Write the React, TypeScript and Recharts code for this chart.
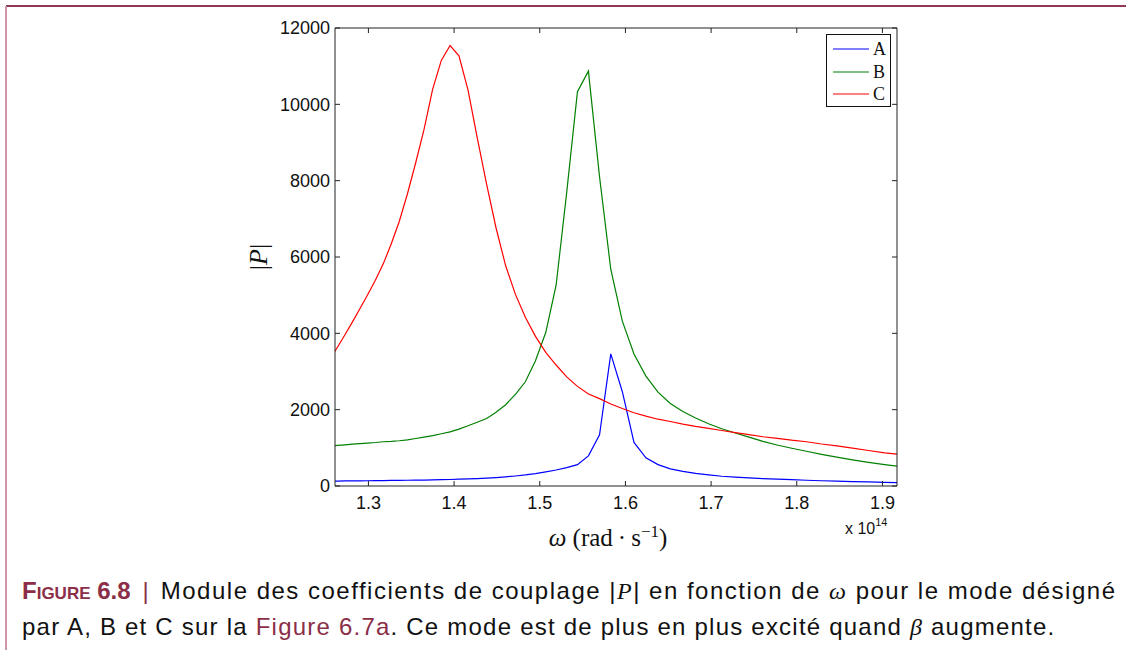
import { LineChart, Line, XAxis, YAxis, Legend } from "recharts";

// omega in units of 1e14 rad/s (samples every 0.1 µm in wavelength, 15.0 -> 9.8 µm)
const omega = [
  1.2558, 1.2642, 1.2728, 1.2814, 1.2902, 1.2991, 1.3081, 1.3173, 1.3266, 1.336,
  1.3455, 1.3552, 1.365, 1.375, 1.3851, 1.3953, 1.4057, 1.4163, 1.427, 1.438,
  1.449, 1.4602, 1.4716, 1.4832, 1.495, 1.507, 1.5191, 1.5315, 1.544, 1.5568,
  1.5698, 1.5829, 1.5964, 1.61, 1.6239, 1.638, 1.6524, 1.667, 1.6819, 1.697,
  1.7125, 1.7282, 1.7442, 1.7605, 1.7771, 1.794, 1.8113, 1.8288, 1.8468, 1.8651,
  1.8837, 1.9027, 1.9222,
];

const seriesA = [
  128, 130, 132, 134, 136, 138, 140, 142, 145, 148,
  150, 153, 156, 160, 165, 170, 178, 186, 195, 207,
  222, 240, 262, 290, 325, 372, 420, 480, 560, 790,
  1340, 3460, 2470, 1140, 740, 560, 450, 385, 330, 290,
  255, 232, 212, 195, 180, 165, 150, 138, 127, 117,
  107, 95, 85,
];

const seriesB = [
  1050, 1065, 1080, 1095, 1110, 1125, 1140, 1160, 1170, 1185,
  1210, 1245, 1280, 1320, 1370, 1420, 1490, 1580, 1670, 1770,
  1930, 2130, 2400, 2730, 3280, 4020, 5260, 7700, 10330, 10870,
  8100, 5680, 4320, 3460, 2880, 2460, 2160, 1950, 1780, 1630,
  1500, 1390, 1280, 1170, 1075, 990, 910, 830, 755, 685,
  620, 560, 505,
];

const seriesC = [
  3340, 3650, 3970, 4300, 4650, 5010, 5390, 5820, 6340, 6930,
  7650, 8470, 9350, 10400, 11150, 11540, 11270, 10370, 9130, 7900,
  6760, 5770, 5020, 4420, 3920, 3500, 3170, 2860, 2610, 2410,
  2290, 2150, 2030, 1920, 1830, 1750, 1690, 1620, 1560, 1510,
  1455, 1400, 1345, 1290, 1250, 1200, 1160, 1100, 1050, 990,
  930, 870, 820,
];

const seriesNames = ["A", "B", "C"];
const seriesColors = ["#0000ff", "#008000", "#ff0000"];
const xTicks = [1.3, 1.4, 1.5, 1.6, 1.7, 1.8, 1.9];
const yTicks = [0, 2000, 4000, 6000, 8000, 10000, 12000];
const xDomain = [1.261, 1.917];
const yDomain = [0, 12000];

const data = omega.map((w, i) => ({
  omega: w,
  A: seriesA[i],
  B: seriesB[i],
  C: seriesC[i],
}));

const AXIS = "#222";
const TICK_FONT = "'Liberation Sans', Arial, Helvetica, sans-serif";
const SERIF = "'Liberation Serif', 'Times New Roman', serif";
const MAROON = "#8b2e47";
const TICK_LEN = 5;
const X_MARGIN = 10;
const Y_MARGIN = 5;

function BottomTick(props: any) {
  const { x, y, payload } = props;
  const axisY = y - X_MARGIN;
  return (
    <g>
      <line x1={x} x2={x} y1={axisY} y2={axisY - TICK_LEN} stroke={AXIS} />
      <text x={x} y={y} dy="0.72em" textAnchor="middle" fontFamily={TICK_FONT} fontSize={18} fill="#111">
        {payload.value.toFixed(1)}
      </text>
    </g>
  );
}

function TopTick(props: any) {
  const { x, y } = props;
  const axisY = y + 2;
  return <line x1={x} x2={x} y1={axisY} y2={axisY + TICK_LEN} stroke={AXIS} />;
}

function LeftTick(props: any) {
  const { x, y, payload } = props;
  const axisX = x + Y_MARGIN;
  return (
    <g>
      <line x1={axisX} x2={axisX + TICK_LEN} y1={y} y2={y} stroke={AXIS} />
      <text x={x} y={y} dy="0.36em" textAnchor="end" fontFamily={TICK_FONT} fontSize={18} fill="#111">
        {payload.value}
      </text>
    </g>
  );
}

function RightTick(props: any) {
  const { x, y } = props;
  const axisX = x - 2;
  return <line x1={axisX} x2={axisX - TICK_LEN} y1={y} y2={y} stroke={AXIS} />;
}

function LegendBox(props: any) {
  const items = props.payload || [];
  return (
    <div
      style={{
        width: 65,
        height: 73,
        border: "1px solid #111",
        background: "#fff",
        boxSizing: "border-box",
        paddingTop: 3,
      }}
    >
      {items.map((item: any) => (
        <div key={item.value} style={{ display: "flex", alignItems: "center", height: 22.5 }}>
          <svg width={46} height={10} style={{ display: "block" }}>
            <line x1={6} x2={42} y1={5} y2={5} stroke={item.color} strokeWidth={1} />
          </svg>
          <span style={{ fontFamily: SERIF, fontSize: 18, lineHeight: "22px", color: "#111" }}>{item.value}</span>
        </div>
      ))}
    </div>
  );
}

function YLabel(props: any) {
  const { viewBox } = props;
  const cx = viewBox.x + viewBox.width - 77;
  const cy = viewBox.y + viewBox.height / 2;
  return (
    <text
      x={cx}
      y={cy}
      transform={`rotate(-90 ${cx} ${cy})`}
      textAnchor="middle"
      dy="0.35em"
      fontFamily={SERIF}
      fontSize={26}
      fill="#111"
    >
      |<tspan fontStyle="italic">P</tspan>|
    </text>
  );
}

function XLabel(props: any) {
  const { viewBox } = props;
  const cx = viewBox.x + viewBox.width / 2 - 8;
  const right = viewBox.x + viewBox.width;
  return (
    <g>
      <text x={cx} y={viewBox.y + 60} textAnchor="middle" fontFamily={SERIF} fontSize={25} fill="#111">
        <tspan fontStyle="italic">ω</tspan> (rad{"\u2009"}·{"\u2009"}s
        <tspan dy={-9} fontSize={17}>−1</tspan>
        <tspan dy={9}>)</tspan>
      </text>
      <text x={right - 52} y={viewBox.y + 48} fontFamily={TICK_FONT} fontSize={16} fill="#111">
        x 10
        <tspan dy={-8} fontSize={11}>14</tspan>
      </text>
    </g>
  );
}

export default function App() {
  return (
    <div style={{ position: "absolute", left: 0, top: 0, width: 1126, height: 650, background: "#fff", overflow: "hidden" }}>
      <div style={{ position: "absolute", left: 6, top: 5, width: 1120, height: 2, background: "#8e3a52" }} />
      <div style={{ position: "absolute", left: 5, top: 6, width: 2, height: 644, background: "#cf97aa" }} />

      <div style={{ position: "absolute", left: 0, top: 0 }}>
        <LineChart width={1126} height={560} data={data} margin={{ top: 27, right: 228, bottom: 34, left: 275 }}>
          <XAxis
            xAxisId="b"
            dataKey="omega"
            type="number"
            domain={xDomain}
            ticks={xTicks}
            allowDataOverflow
            height={40}
            tickSize={0}
            tickMargin={X_MARGIN}
            tickLine={false}
            axisLine={{ stroke: AXIS }}
            tick={<BottomTick />}
            label={<XLabel />}
          />
          <XAxis
            xAxisId="t"
            orientation="top"
            dataKey="omega"
            type="number"
            domain={xDomain}
            ticks={xTicks}
            allowDataOverflow
            height={1}
            tickSize={0}
            tickMargin={2}
            tickLine={false}
            axisLine={{ stroke: AXIS }}
            tick={<TopTick />}
          />
          <YAxis
            yAxisId="l"
            type="number"
            domain={yDomain}
            ticks={yTicks}
            allowDataOverflow
            width={60}
            tickSize={0}
            tickMargin={Y_MARGIN}
            tickLine={false}
            axisLine={{ stroke: AXIS }}
            tick={<LeftTick />}
            label={<YLabel />}
          />
          <YAxis
            yAxisId="r"
            orientation="right"
            type="number"
            domain={yDomain}
            ticks={yTicks}
            allowDataOverflow
            width={1}
            tickSize={0}
            tickMargin={2}
            tickLine={false}
            axisLine={{ stroke: AXIS }}
            tick={<RightTick />}
          />
          {seriesNames.map((name, i) => (
            <Line
              key={name}
              xAxisId="b"
              yAxisId="l"
              type="linear"
              dataKey={name}
              name={name}
              stroke={seriesColors[i]}
              strokeWidth={1.2}
              dot={false}
              activeDot={false}
              isAnimationActive={false}
            />
          ))}
          <Legend
            layout="vertical"
            align="center"
            verticalAlign="middle"
            content={<LegendBox />}
            wrapperStyle={{ left: 826, top: 34, width: 65, height: 73 }}
          />
        </LineChart>
      </div>

      <div
        style={{
          position: "absolute",
          left: 22,
          top: 573,
          width: 1104,
          fontFamily: TICK_FONT,
          fontSize: 24,
          lineHeight: "35px",
          color: "#111",
          whiteSpace: "nowrap",
        }}
      >
        <div style={{ letterSpacing: "1.5px" }}>
          <span style={{ color: MAROON, fontWeight: "bold", fontVariant: "small-caps", letterSpacing: 0 }}>Figure 6.8</span>
          <span style={{ color: MAROON, letterSpacing: 0 }}>{"\u2002"}|{"\u2002"}</span>
          Module des coefficients de couplage |<i style={{ fontFamily: SERIF }}>P</i>| en fonction de{" "}
          <i style={{ fontFamily: SERIF }}>ω</i> pour le mode désigné
        </div>
        <div style={{ letterSpacing: "1.22px" }}>
          par A, B et C sur la <span style={{ color: MAROON }}>Figure 6.7a</span>. Ce mode est de plus en plus excité quand{" "}
          <i style={{ fontFamily: SERIF }}>β</i> augmente.
        </div>
      </div>
    </div>
  );
}
